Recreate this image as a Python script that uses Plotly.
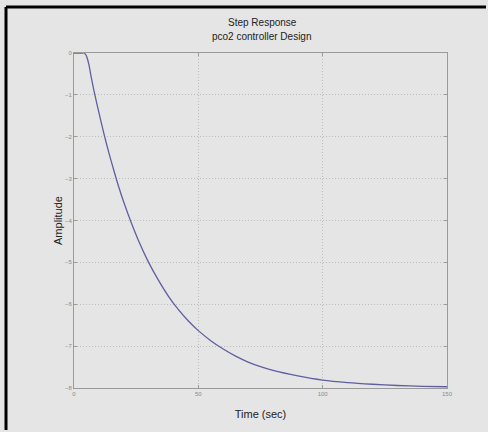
import plotly.graph_objects as go

# Step response samples (time in sec, amplitude)
time_sec = [0, 2, 3, 4, 4.5, 5, 5.5, 6, 7, 8, 9, 10, 12, 14, 16, 18, 20, 23, 26,
            30, 34, 38, 42, 46, 50, 55, 60, 65, 70, 75, 80, 90, 100, 110, 120,
            130, 140, 150]
amplitude = [0, 0, 0, 0, -0.02, -0.07, -0.16, -0.28, -0.60, -0.89, -1.16, -1.42,
             -1.92, -2.38, -2.80, -3.20, -3.56, -4.05, -4.49, -5.00, -5.43, -5.81,
             -6.13, -6.40, -6.63, -6.87, -7.07, -7.24, -7.38, -7.49, -7.58, -7.71,
             -7.81, -7.87, -7.91, -7.94, -7.96, -7.97]

x_ticks = [0, 50, 100, 150]
y_ticks = [0, -1, -2, -3, -4, -5, -6, -7, -8]
title_lines = ["Step Response", "pco2 controller Design"]

BG = "#e5e5e5"
AX = "#9a9a9a"
GRID = "#bcbcbc"
FONT = "Liberation Sans, Arial, sans-serif"

fig = go.Figure()
fig.add_trace(go.Scatter(
    x=time_sec, y=amplitude, mode="lines",
    line=dict(color="#5f5fa0", width=1.3, shape="spline", smoothing=0.6),
    showlegend=False, hoverinfo="skip"))

axis_common = dict(
    showline=True, linecolor=AX, linewidth=1, mirror="ticks",
    ticks="inside", ticklen=3, tickcolor=AX,
    showgrid=True, gridcolor=GRID, griddash="1px,2px", gridwidth=1,
    zeroline=False,
    tickfont=dict(family=FONT, size=6, color="#8a8a8a"),
)

fig.update_xaxes(range=[0, 150], tickvals=x_ticks,
                 title=dict(text="Time (sec)", font=dict(family=FONT, size=11, color="#222"),
                            standoff=14),
                 **axis_common)
fig.update_yaxes(range=[-8, 0], tickvals=y_ticks,
                 title=dict(text="Amplitude", font=dict(family=FONT, size=11, color="#222"),
                            standoff=0),
                 **axis_common)

annotations = [
    dict(text=title_lines[0], x=0.505, y=(388 - 22) / 335, xref="paper", yref="paper",
         showarrow=False, font=dict(family=FONT, size=10, color="#222"), yanchor="middle"),
    dict(text=title_lines[1], x=0.505, y=(388 - 37) / 335, xref="paper", yref="paper",
         showarrow=False, font=dict(family=FONT, size=10, color="#222"), yanchor="middle"),
]

shapes = [
    # black frame on top and left edges
    dict(type="line", xref="paper", yref="paper",
         x0=(6 - 74) / 373, x1=(486 - 74) / 373, y0=(388 - 7) / 335, y1=(388 - 7) / 335,
         line=dict(color="black", width=3)),
    dict(type="line", xref="paper", yref="paper",
         x0=(6 - 74) / 373, x1=(6 - 74) / 373, y0=(388 - 7) / 335, y1=(388 - 430) / 335,
         line=dict(color="black", width=3)),
]

fig.update_layout(
    width=488, height=432,
    margin=dict(l=74, r=41, t=53, b=44),
    paper_bgcolor=BG, plot_bgcolor=BG,
    annotations=annotations, shapes=shapes,
    showlegend=False,
)

fig.write_html("out.html", config={"displayModeBar": False})
